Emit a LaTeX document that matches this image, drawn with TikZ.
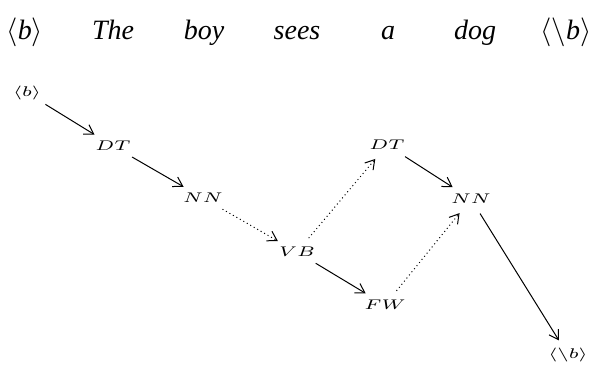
\documentclass[tikz,border=0pt]{standalone}
\usepackage{fontspec}
\usepackage{graphicx}
\usetikzlibrary{arrows.meta,shapes.geometric}
\newfontfamily\tnr{Liberation Serif}
% horizontally widened math labels for the lattice nodes
\newcommand\widelab[1]{\scalebox{1.4}[1]{\fontsize{7.2}{8}\selectfont$#1$}}
\newcommand\toplab[1]{{\fontsize{14}{16}\selectfont\tnr\itshape #1}}
\tikzset{
  tag/.style={ellipse, minimum width=27pt, minimum height=15pt, inner sep=0pt},
  word/.style={anchor=base, inner sep=0pt},
  arr/.style={line width=0.5pt, -{Straight Barb[length=4.5pt,width=5.5pt,line width=0.5pt]}},
  solidarr/.style={arr},
  dotarr/.style={arr, dash pattern=on 0.5pt off 1.5pt}
}
\begin{document}
\begin{tikzpicture}[x=0.5pt,y=-0.5pt]
  \useasboundingbox (0,0) rectangle (594,370);
  % sentence
  \node[word] (w0) at (25,39)  {\toplab{\(\langle\)b\(\rangle\)}};
  \node[word] (w1) at (113,39) {\toplab{The}};
  \node[word] (w2) at (204,39) {\toplab{boy}};
  \node[word] (w3) at (297,39) {\toplab{sees}};
  \node[word] (w4) at (388,39) {\toplab{a}};
  \node[word] (w5) at (475,39) {\toplab{dog}};
  \node[word] (w6) at (566,39) {\toplab{\(\langle\backslash\)b\(\rangle\)}};
  % tag lattice
  \node[tag] (b0)  at (27,93)   {\widelab{\langle b\rangle}};
  \node[tag] (dt1) at (113,146) {\widelab{DT}};
  \node[tag] (nn1) at (203,198) {\widelab{NN}};
  \node[tag] (vb)  at (297,252) {\widelab{VB}};
  \node[tag] (dt2) at (387,145) {\widelab{DT}};
  \node[tag] (nn2) at (471,199) {\widelab{NN}};
  \node[tag] (fw)  at (385,305) {\widelab{FW}};
  \node[tag] (e0)  at (568,355) {\widelab{\langle\backslash b\rangle}};
  % transitions
  \draw[solidarr] (b0)  -- (dt1);
  \draw[solidarr] (dt1) -- (nn1);
  \draw[dotarr]   (nn1) -- (vb);
  \draw[dotarr]   (vb)  -- (dt2);
  \draw[solidarr] (vb)  -- (fw);
  \draw[solidarr] (dt2) -- (nn2);
  \draw[dotarr]   (fw)  -- (nn2);
  \draw[solidarr] (nn2) -- (e0);
\end{tikzpicture}
\end{document}
